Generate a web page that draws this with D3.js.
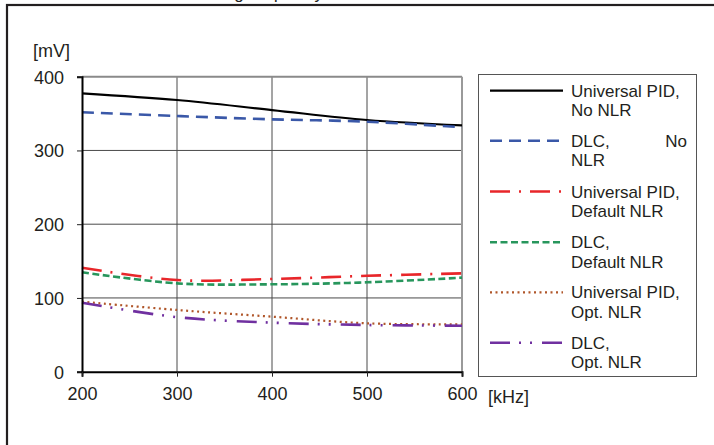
<!DOCTYPE html>
<html>
<head>
<meta charset="utf-8">
<script src="https://cdn.jsdelivr.net/npm/d3@7/dist/d3.min.js"></script>
<style>
  html, body { margin: 0; padding: 0; background: #fff; }
  svg { display: block; font-family: "Liberation Sans", Arial, sans-serif; }
</style>
</head>
<body>
<svg id="chart" width="714" height="445"></svg>
<script>
const frequencies = [200, 300, 400, 500, 600];
const xTicks = [200, 300, 400, 500, 600];
const yTicks = [0, 100, 200, 300, 400];

const seriesNames = [
  ["Universal PID,", "No NLR"],
  ["DLC,", "NLR"],
  ["Universal PID,", "Default NLR"],
  ["DLC,", "Default NLR"],
  ["Universal PID,", "Opt. NLR"],
  ["DLC,", "Opt. NLR"]
];
const pidNoNlr      = [377.5, 368.4, 354.8, 341.3, 334];
const dlcNoNlr      = [351.7, 346.7, 342.2, 339, 331.4];
const pidDefaultNlr = [141, 124.3, 125.7, 130, 133.4];
const dlcDefaultNlr = [134.8, 119.8, 118.5, 121.2, 127.5];
const pidOptNlr     = [95, 83.7, 74.6, 65.6, 64.3];
const dlcOptNlr     = [93.6, 74, 66.5, 63.3, 62.4];
const seriesValues = [pidNoNlr, dlcNoNlr, pidDefaultNlr, dlcDefaultNlr, pidOptNlr, dlcOptNlr];

const styles = [
  { color: "#000000", width: 2.2, dash: null },
  { color: "#3a58a8", width: 2.6, dash: "12,7" },
  { color: "#e8262a", width: 2.6, dash: "20,9,2,9" },
  { color: "#27965c", width: 2.6, dash: "7,3.5" },
  { color: "#b0562a", width: 2.2, dash: "2,3.5" },
  { color: "#7030a0", width: 2.6, dash: "20,9,2,9,2,10" }
];

const svg = d3.select("#chart");
const textColor = "#231f20";

// outer frame
svg.append("rect").attr("x", 7).attr("y", 5).attr("width", 720).attr("height", 460)
  .attr("fill", "none").attr("stroke", textColor).attr("stroke-width", 2.2);

// title, mostly above the top edge (only descenders visible in reference)
svg.append("text").attr("x", 323).attr("y", -0.8).attr("text-anchor", "end")
  .attr("font-size", 17).attr("fill", textColor)
  .text("Overshoot vs. switching frequency");

const x = d3.scaleLinear().domain([200, 600]).range([82, 462]);
const y = d3.scaleLinear().domain([0, 400]).range([371.7, 76.7]);

// gridlines
svg.append("g").selectAll("line").data(xTicks.filter(d => d > 200 && d < 600)).join("line")
  .attr("x1", d => x(d)).attr("x2", d => x(d)).attr("y1", y(400)).attr("y2", y(0))
  .attr("stroke", "#4a4a4a").attr("stroke-width", 1);
svg.append("g").selectAll("line").data(yTicks.filter(d => d > 0 && d < 400)).join("line")
  .attr("x1", x(200)).attr("x2", x(600)).attr("y1", d => y(d)).attr("y2", d => y(d))
  .attr("stroke", "#4a4a4a").attr("stroke-width", 1);
// top & right plot border (gray)
svg.append("line").attr("x1", x(200)).attr("x2", x(600)).attr("y1", y(400)).attr("y2", y(400))
  .attr("stroke", "#8a8a8a").attr("stroke-width", 2);
svg.append("line").attr("x1", x(600)).attr("x2", x(600)).attr("y1", y(400)).attr("y2", y(0))
  .attr("stroke", "#9a9a9a").attr("stroke-width", 2);

// series
const line = d3.line().x((d, i) => x(frequencies[i])).y(d => y(d)).curve(d3.curveCatmullRom.alpha(0.5));
seriesValues.forEach((vals, i) => {
  const st = styles[i];
  svg.append("path").datum(vals).attr("d", line)
    .attr("fill", "none").attr("stroke", st.color).attr("stroke-width", st.width)
    .attr("stroke-dasharray", st.dash);
});

// axes
const yAxis = d3.axisLeft(y).tickValues(yTicks).tickSize(5).tickFormat(d3.format("d"));
const gy = svg.append("g").attr("transform", `translate(${x(200)},0)`).call(yAxis);
const xAxis = d3.axisBottom(x).tickValues(xTicks).tickSize(5).tickFormat(d3.format("d"));
const gx = svg.append("g").attr("transform", `translate(0,${y(0)})`).call(xAxis);
[gy, gx].forEach(g => {
  g.select(".domain").attr("stroke", "#000").attr("stroke-width", 2);
  g.selectAll(".tick line").attr("stroke", "#222").attr("stroke-width", 1);
  g.selectAll(".tick text").attr("font-size", 18).attr("fill", textColor)
    .attr("font-family", "Liberation Sans, Arial, sans-serif");
});
gy.selectAll(".tick text").attr("x", -18).attr("dy", "0.35em");
gx.selectAll(".tick text").attr("y", 16).attr("dy", "0.71em");

svg.append("text").attr("x", 33).attr("y", 57).attr("font-size", 18).attr("fill", textColor).text("[mV]");
svg.append("text").attr("x", 488).attr("y", 403).attr("font-size", 18).attr("fill", textColor).text("[kHz]");

// legend
svg.append("rect").attr("x", 478.5).attr("y", 74.5).attr("width", 218).attr("height", 302)
  .attr("fill", "#fff").attr("stroke", "#555").attr("stroke-width", 1);
const legY = [90.7, 140.7, 191.5, 242.3, 292.3, 342.7];
seriesNames.forEach((nm, i) => {
  const st = styles[i];
  const g = svg.append("g");
  g.append("line").attr("x1", 490).attr("x2", 563).attr("y1", legY[i]).attr("y2", legY[i])
    .attr("stroke", st.color).attr("stroke-width", st.width).attr("stroke-dasharray", st.dash);
  g.append("text").attr("x", 571).attr("y", legY[i] + 6).attr("font-size", 17).attr("fill", textColor).text(nm[0]);
  g.append("text").attr("x", 571).attr("y", legY[i] + 25.5).attr("font-size", 17).attr("fill", textColor).text(nm[1]);
  if (i === 1) {
    g.append("text").attr("x", 687).attr("y", legY[i] + 6).attr("text-anchor", "end")
      .attr("font-size", 17).attr("fill", textColor).text("No");
  }
});
</script>
</body>
</html>
